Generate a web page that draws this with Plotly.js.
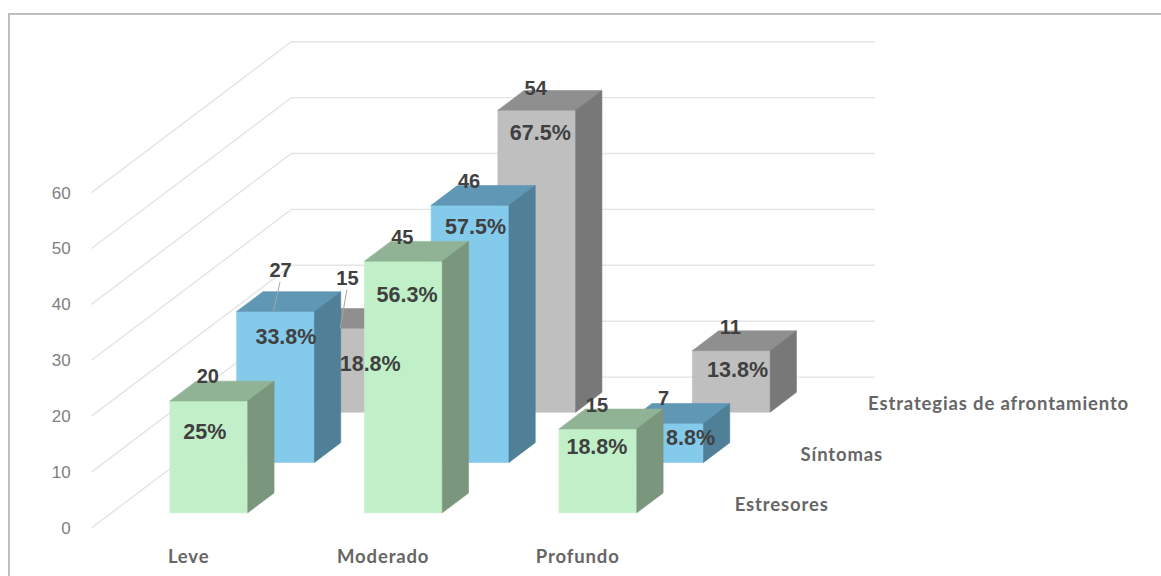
<!DOCTYPE html>
<html lang="es">
<head>
<meta charset="utf-8">
<script src="https://cdn.plot.ly/plotly-3.0.1.min.js"></script>
<style>
html,body{margin:0;padding:0;background:#fff}
#chart{width:1161px;height:576px}
/* Looser tracking on the category and series names */
#chart .xtick text,#chart .annotation-text-g text{letter-spacing:.85px}
</style>
</head>
<body>
<div id="chart"></div>
<script>
// Chart values
const categories = ['Leve', 'Moderado', 'Profundo'];
const seriesNames = ['Estresores', 'Síntomas', 'Estrategias de afrontamiento'];
const estresores = [20, 45, 15];
const sintomas = [27, 46, 7];
const estrategias = [15, 54, 11];
const estresoresPct = ['25%', '56.3%', '18.8%'];
const sintomasPct = ['33.8%', '57.5%', '8.8%'];
const estrategiasPct = ['18.8%', '67.5%', '13.8%'];
const valueTicks = [0, 10, 20, 30, 40, 50, 60];

const seriesValues = [estresores, sintomas, estrategias];
const seriesPct = [estresoresPct, sintomasPct, estrategiasPct];

// Face colours per series: front, top, side
const faceColors = [
  ['#C1F0C8', '#91B395', '#7A967D'],
  ['#83CAEB', '#5F97B5', '#507F98'],
  ['#BFBFBF', '#8F8F8F', '#787878']
];

// Plot frame and oblique projection settings
const W = 1161, H = 576, marginL = 91, marginB = 48;
const pxPerCat = 194.6, pxPerValue = 5.59;
const depthX = 66.7 / pxPerCat;     // category units per depth slot
const depthY = 50.3 / pxPerValue;   // value units per depth slot
const halfWidth = 0.2, depthFront = 0.303, depthBack = 0.697;
const slots = seriesNames.length;

const project = (cat, depth, value) => [cat + depth * depthX, value + depth * depthY];

const polygon = (pts, color) => ({
  type: 'scatter', mode: 'lines', hoverinfo: 'skip', showlegend: false,
  x: pts.map(p => p[0]), y: pts.map(p => p[1]),
  fill: 'toself', fillcolor: color, line: {color: color, width: 0.6}
});

const traces = [];

// Walls: diagonal side-wall lines plus horizontal back-wall lines
const gridX = [], gridY = [];
valueTicks.forEach(v => {
  [project(-0.5, 0, v), project(-0.5, slots, v), project(categories.length - 0.5, slots, v)].forEach(p => {
    gridX.push(p[0]); gridY.push(p[1]);
  });
  gridX.push(null); gridY.push(null);
});
traces.push({type: 'scatter', mode: 'lines', x: gridX, y: gridY, hoverinfo: 'skip', showlegend: false,
  line: {color: '#E4E4E4', width: 1.4}});

// Columns painted from the back row forward
for (let s = slots - 1; s >= 0; s--) {
  categories.forEach((_, c) => {
    const v = seriesValues[s][c];
    const l = c - halfWidth, r = c + halfWidth;
    const df = s + depthFront, db = s + depthBack;
    const [front, top, side] = faceColors[s];
    traces.push(polygon([project(l, df, 0), project(r, df, 0), project(r, df, v), project(l, df, v), project(l, df, 0)], front));
    traces.push(polygon([project(l, df, v), project(r, df, v), project(r, db, v), project(l, db, v), project(l, df, v)], top));
    traces.push(polygon([project(r, df, 0), project(r, db, 0), project(r, db, v), project(r, df, v), project(r, df, 0)], side));
  });
}

// Label placement relative to each column's front-top centre, in pixels [dx, dy]
const countOffsets = [
  [[-1, -22.5], [-1, -22.5], [-1, -21.7]],
  [[5, -39.7], [-1, -22.4], [-1, -23]],
  [[5.2, -48.7], [-1, -20.7], [-1, -21.7]]
];
const pctOffsets = [
  [[-4, 32.6], [3.7, 35.6], [-1, 20]],
  [[10.4, 26.6], [5.5, 23.3], [26, 16]],
  [[28, 37], [3.6, 24.3], [6.3, 21]]
];

const textTrace = (xs, ys, texts, size) => ({
  type: 'scatter', mode: 'text', x: xs, y: ys, text: texts, hoverinfo: 'skip', showlegend: false,
  textposition: 'middle center', cliponaxis: false,
  textfont: {family: 'Liberation Sans, Arial, sans-serif', size: size, color: '#404040', weight: 700}
});

const cx = [], cy = [], ct = [], px = [], py = [], pt = [];
const leadX = [], leadY = [];
for (let s = 0; s < slots; s++) {
  categories.forEach((_, c) => {
    const v = seriesValues[s][c];
    const anchor = project(c, s + depthFront, v);
    const co = countOffsets[s][c], po = pctOffsets[s][c];
    const lx = anchor[0] + co[0] / pxPerCat, ly = anchor[1] - co[1] / pxPerValue;
    cx.push(lx); cy.push(ly); ct.push(String(v));
    px.push(anchor[0] + po[0] / pxPerCat);
    py.push(anchor[1] - po[1] / pxPerValue);
    pt.push(seriesPct[s][c]);
    // Leader line for counts displaced well above their column
    if (co[1] < -30) {
      leadX.push(anchor[0] - 2 / pxPerCat, lx - 0.5 / pxPerCat, null);
      leadY.push(anchor[1], ly - 10 / pxPerValue, null);
    }
  });
}
traces.push({type: 'scatter', mode: 'lines', x: leadX, y: leadY, hoverinfo: 'skip', showlegend: false,
  line: {color: '#A6A6A6', width: 1}});
traces.push(textTrace(cx, cy, ct, 20));
traces.push(textTrace(px, py, pt, 21.5));

// Series names sit along the floor's right edge, one per depth row.
// The shift includes half the extra tracking so the left edges stay put.
const axisFont = {family: 'Lato, sans-serif', size: 18.5, color: '#666666', weight: 700};
const annotations = seriesNames.map((name, s) => {
  const p = project(categories.length - 0.5, s + 0.5, 0);
  return {x: p[0], y: p[1], text: name, showarrow: false, xanchor: 'left', yanchor: 'middle',
    xshift: 24 + 0.425 * name.length, yshift: -1, font: axisFont};
});

const plotW = W - marginL, plotH = H - marginB;
const paperX = px_ => (px_ - marginL) / plotW;
const paperY = py_ => 1 - py_ / plotH;

const layout = {
  width: W, height: H, autosize: false,
  margin: {l: marginL, r: 0, t: 0, b: marginB, pad: 0},
  paper_bgcolor: '#fff', plot_bgcolor: 'rgba(0,0,0,0)',
  showlegend: false,
  xaxis: {
    range: [-0.5 - (0.4 / pxPerCat), -0.5 + plotW / pxPerCat],
    tickmode: 'array', tickvals: categories.map((_, i) => i), ticktext: categories,
    ticks: 'outside', ticklen: 12, tickcolor: 'rgba(0,0,0,0)', tickfont: axisFont,
    showgrid: false, zeroline: false, showline: false, fixedrange: true
  },
  yaxis: {
    range: [0, plotH / pxPerValue],
    tickmode: 'array', tickvals: valueTicks, ticktext: valueTicks.map(String),
    ticks: 'outside', ticklen: 16, tickcolor: 'rgba(0,0,0,0)',
    tickfont: {family: 'Liberation Sans, Arial, sans-serif', size: 17, color: '#7F7F7F'},
    showgrid: false, zeroline: false, showline: false, fixedrange: true
  },
  annotations: annotations,
  shapes: [{
    type: 'path', xref: 'paper', yref: 'paper', layer: 'below',
    path: `M ${paperX(9)} ${paperY(H)} L ${paperX(9)} ${paperY(14)} L ${paperX(W)} ${paperY(14)}`,
    line: {color: '#BFBFBF', width: 2}
  }]
};

Plotly.newPlot('chart', traces, layout, {displayModeBar: false, staticPlot: true});
</script>
</body>
</html>
